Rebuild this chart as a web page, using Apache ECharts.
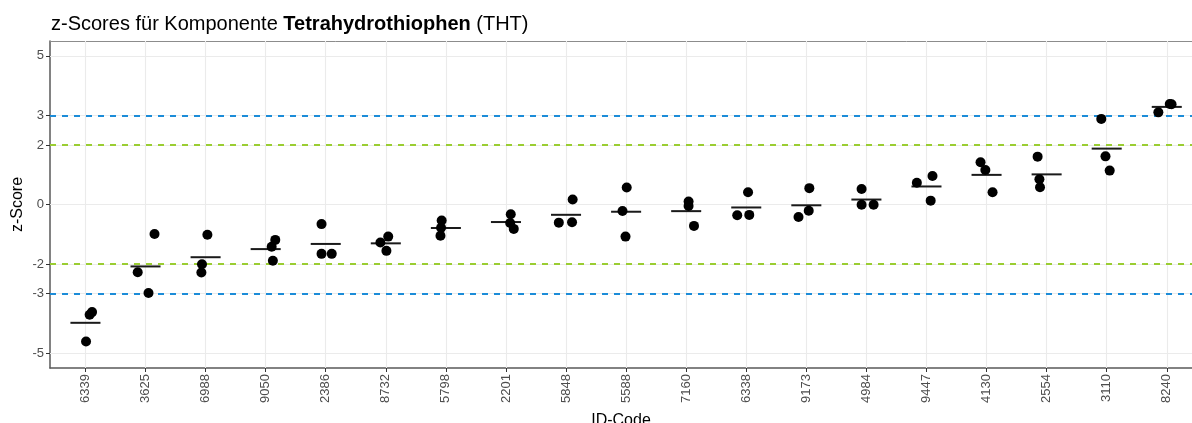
<!DOCTYPE html>
<html>
<head>
<meta charset="utf-8">
<title>z-Scores THT</title>
<script src="https://cdn.jsdelivr.net/npm/echarts@6/dist/echarts.min.js"></script>
<style>
  html, body { margin: 0; padding: 0; background: #ffffff; }
  #chart { width: 1192px; height: 423px; }
</style>
</head>
<body>
<div id="chart"></div>
<script>
// Laboratories (ID-Code), sorted by mean z-score
const categories = ['6339', '3625', '6988', '9050', '2386', '8732', '5798', '2201', '5848', '5588',
                    '7160', '6338', '9173', '4984', '9447', '4130', '2554', '3110', '8240'];

// z-scores of the three single results per laboratory
const result1 = [-3.71, -2.28, -1.02, -1.19, -0.66, -1.08, -0.54, -0.33, 0.17, 0.57,
                  0.10, 0.41, 0.55, 0.52, 0.73, 1.42, 1.61, 2.88, 3.10];
const result2 = [-3.62, -2.98, -2.01, -1.42, -1.66, -1.28, -0.78, -0.62, -0.61, -0.22,
                 -0.05, -0.36, -0.21, -0.01, 0.96, 1.16, 0.85, 1.62, 3.38];
const result3 = [-4.61, -0.99, -2.29, -1.89, -1.66, -1.56, -1.05, -0.82, -0.60, -1.08,
                 -0.72, -0.35, -0.42, -0.01, 0.13, 0.41, 0.58, 1.14, 3.37];

// horizontal jitter of the single results (in category units)
const jitter1 = [0.07, -0.13, 0.03, 0.16, -0.07, 0.04, -0.07, 0.08, 0.11, 0.01,
                 0.04, 0.03, 0.05, -0.08, -0.16, -0.10, -0.15, -0.09, -0.14];
const jitter2 = [0.11, 0.05, -0.06, 0.10, -0.07, -0.09, -0.08, 0.07, -0.12, -0.06,
                 0.04, -0.15, 0.04, -0.08, 0.10, -0.02, -0.12, -0.02, 0.05];
const jitter3 = [0.01, 0.15, -0.07, 0.12, 0.10, 0.01, -0.09, 0.13, 0.10, -0.01,
                 0.13, 0.05, -0.13, 0.12, 0.07, 0.10, -0.11, 0.05, 0.08];

// y-axis breaks and limit lines
const yBreaks = [-5, -3, -2, 0, 2, 3, 5];
const warnLimits = [-2, 2];
const actionLimits = [-3, 3];

const FONT = '"Liberation Sans", Arial, Helvetica, sans-serif';

const points = [];
categories.forEach((c, i) => {
  [[result1, jitter1], [result2, jitter2], [result3, jitter3]].forEach(([r, j]) => {
    points.push([i + j[i], r[i]]);
  });
});
const means = categories.map((c, i) => [i, (result1[i] + result2[i] + result3[i]) / 3]);
const catIdx = categories.map((c, i) => i);

const chart = echarts.init(document.getElementById('chart'), null, { renderer: 'canvas' });

chart.setOption({
  animation: false,
  backgroundColor: '#ffffff',
  textStyle: { fontFamily: FONT },
  title: {
    left: 46,
    top: 9,
    text: '{n|z-Scores für Komponente }{b|Tetrahydrothiophen}{n| (THT)}',
    textStyle: {
      fontWeight: 'normal',
      fontSize: 20,
      rich: {
        n: { fontFamily: FONT, fontSize: 20, fontWeight: 'normal', color: '#000000' },
        b: { fontFamily: FONT, fontSize: 20, fontWeight: 'bold', color: '#000000' }
      }
    }
  },
  grid: { left: 50, right: 0, top: 41, bottom: 55, containLabel: false, outerBoundsMode: 'none' },
  xAxis: [{
    type: 'value',
    min: -0.59,
    max: 18.42,
    name: 'ID-Code',
    nameLocation: 'middle',
    nameGap: 45,
    nameMoveOverlap: false,
    nameTextStyle: { fontFamily: FONT, fontSize: 16, color: '#000000' },
    axisLine: { show: true, onZero: false, lineStyle: { color: '#595959', width: 1.5 } },
    axisTick: { show: true, customValues: catIdx, length: 4, lineStyle: { color: '#333333', width: 1 } },
    axisLabel: {
      customValues: catIdx,
      rotate: 90,
      margin: 6,
      fontFamily: FONT,
      fontSize: 13,
      color: '#4D4D4D',
      formatter: v => categories[Math.round(v)]
    },
    splitLine: { show: false }
  }, {
    type: 'value',
    position: 'top',
    min: -0.59,
    max: 18.42,
    axisLine: { show: true, onZero: false, lineStyle: { color: '#8c8c8c', width: 1 } },
    axisTick: { show: false },
    axisLabel: { show: false },
    splitLine: { show: false }
  }],
  yAxis: {
    type: 'value',
    min: -5.5,
    max: 5.5,
    name: 'z-Score',
    nameLocation: 'middle',
    nameRotate: 90,
    nameGap: 24,
    nameMoveOverlap: false,
    nameTextStyle: { fontFamily: FONT, fontSize: 16, color: '#000000' },
    axisLine: { show: true, onZero: false, lineStyle: { color: '#595959', width: 1.5 } },
    axisTick: { show: true, customValues: yBreaks, length: 4, lineStyle: { color: '#333333', width: 1 } },
    axisLabel: { customValues: yBreaks, margin: 6, fontFamily: FONT, fontSize: 13, color: '#4D4D4D' },
    splitLine: { show: false }
  },
  series: [
    {
      // panel grid lines
      type: 'scatter',
      data: [],
      silent: true,
      z: 1,
      markLine: {
        z: 1,
        silent: true,
        symbol: 'none',
        animation: false,
        label: { show: false },
        lineStyle: { color: '#EBEBEB', width: 1.1, type: 'solid' },
        data: yBreaks.map(v => ({ yAxis: v })).concat(catIdx.map(v => ({ xAxis: v })))
      }
    },
    {
      // limit lines |z| = 2 and |z| = 3
      type: 'scatter',
      data: [],
      silent: true,
      z: 2,
      markLine: {
        z: 2,
        silent: true,
        symbol: 'none',
        animation: false,
        label: { show: false },
        data: warnLimits.map(v => ({ yAxis: v, lineStyle: { color: '#9ACD32', width: 2, type: [6, 6] } }))
          .concat(actionLimits.map(v => ({ yAxis: v, lineStyle: { color: '#1C8CD8', width: 2, type: [6, 6] } })))
      }
    },
    {
      // mean of each laboratory
      type: 'custom',
      z: 8,
      silent: true,
      data: means,
      renderItem: (params, api) => {
        const i = api.value(0), m = api.value(1);
        const p1 = api.coord([i - 0.25, m]);
        const p2 = api.coord([i + 0.25, m]);
        return {
          type: 'line',
          shape: { x1: p1[0], y1: p1[1], x2: p2[0], y2: p2[1] },
          style: { stroke: '#1a1a1a', lineWidth: 2 }
        };
      }
    },
    {
      // single results
      type: 'scatter',
      z: 9,
      data: points,
      symbol: 'circle',
      symbolSize: 10,
      itemStyle: { color: '#000000', opacity: 1 }
    }
  ]
});
</script>
</body>
</html>
